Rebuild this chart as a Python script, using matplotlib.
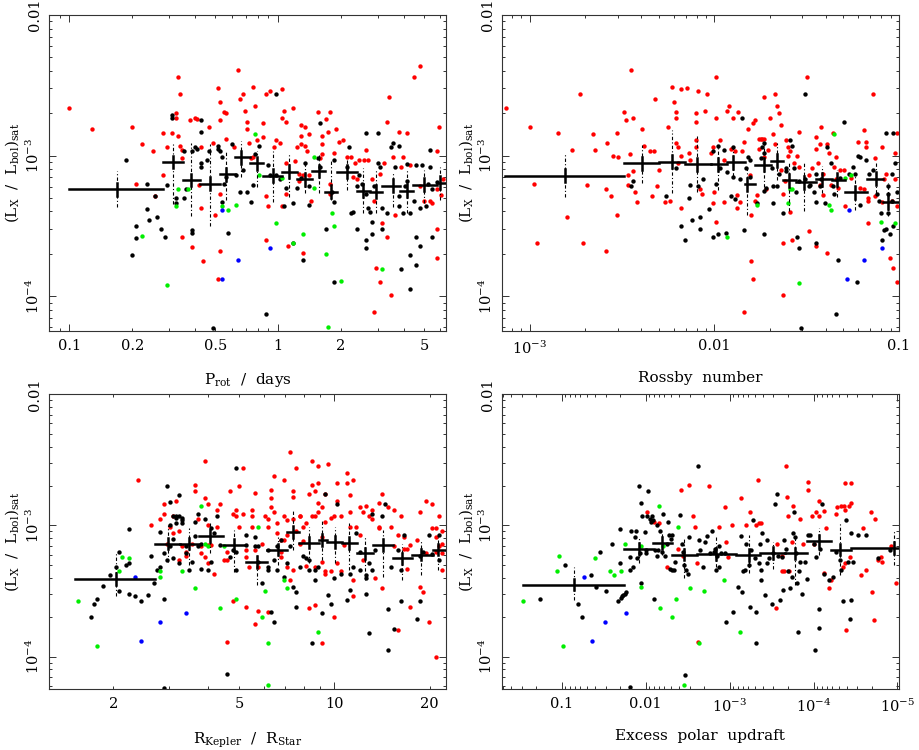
import numpy as np
import matplotlib
matplotlib.use('Agg')
import matplotlib.pyplot as plt
from matplotlib.ticker import LogLocator, FuncFormatter

plt.rcParams['font.family'] = 'DejaVu Serif'
plt.rcParams['mathtext.fontset'] = 'dejavuserif'

# ---- star samples: (log10 x, log10 Lx/Lbol) per colour ----
# panel 1: rotation period (days)
prot_red = [(-1.00, -2.66), (-0.89, -2.81), (-0.70, -2.80), (-0.65, -2.92), (-0.68, -3.20), (-0.60, -2.97),
            (-0.59, -3.29), (-0.55, -3.14), (-0.55, -2.84), (-0.53, -2.94), (-0.51, -2.84), (-0.49, -2.70),
            (-0.49, -2.73), (-0.48, -2.44), (-0.48, -2.86), (-0.47, -2.93), (-0.47, -2.56), (-0.46, -3.02),
            (-0.46, -2.96), (-0.46, -3.58), (-0.42, -2.75), (-0.41, -3.65), (-0.40, -2.73), (-0.39, -2.74),
            (-0.38, -3.21), (-0.37, -2.94), (-0.37, -3.37), (-0.36, -3.75), (-0.33, -2.80), (-0.31, -2.91),
            (-0.30, -3.42), (-0.29, -2.52), (-0.29, -3.88), (-0.28, -2.62), (-0.28, -2.75), (-0.28, -3.68),
            (-0.28, -3.27), (-0.26, -2.69), (-0.25, -2.70), (-0.25, -2.88), (-0.21, -2.94), (-0.19, -2.39),
            (-0.18, -2.60), (-0.17, -2.56), (-0.16, -2.68), (-0.15, -2.76), (-0.15, -2.81), (-0.14, -2.91),
            (-0.13, -3.02), (-0.12, -2.51), (-0.11, -2.65), (-0.12, -3.01), (-0.10, -2.89), (-0.07, -2.77),
            (-0.07, -2.87), (-0.06, -3.60), (-0.06, -2.56), (-0.06, -3.29), (-0.05, -3.36), (-0.04, -2.54),
            (-0.02, -2.94), (-0.01, -2.89), (0.01, -2.91), (0.02, -2.73), (0.02, -2.53), (0.02, -3.36),
            (0.03, -2.68), (0.04, -2.76), (0.04, -3.05), (0.04, -3.27), (0.05, -3.64), (0.07, -2.66),
            (0.08, -3.04), (0.09, -2.94), (0.10, -3.13), (0.10, -3.18), (0.11, -2.78), (0.11, -2.86),
            (0.11, -2.92), (0.12, -3.69), (0.12, -3.14), (0.13, -2.80), (0.13, -2.93), (0.14, -2.97),
            (0.15, -3.14), (0.15, -2.85), (0.16, -3.32), (0.19, -2.69), (0.20, -3.02), (0.21, -2.86),
            (0.21, -2.92), (0.21, -2.99), (0.23, -2.74), (0.25, -2.69), (0.24, -2.83), (0.25, -3.20),
            (0.25, -3.27), (0.27, -2.98), (0.28, -2.81), (0.29, -2.90), (0.31, -2.89), (0.33, -3.01),
            (0.35, -3.01), (0.36, -3.15), (0.37, -3.05), (0.38, -3.17), (0.39, -3.03), (0.41, -3.03),
            (0.42, -2.96), (0.43, -3.03), (0.45, -3.17), (0.46, -4.11), (0.46, -3.32), (0.47, -3.80),
            (0.49, -3.90), (0.49, -3.13), (0.50, -3.48), (0.51, -3.05), (0.52, -2.76), (0.52, -3.58),
            (0.53, -2.58), (0.54, -3.99), (0.55, -3.01), (0.56, -3.42), (0.58, -2.83), (0.59, -3.08),
            (0.60, -3.01), (0.62, -2.84), (0.63, -3.07), (0.65, -2.44), (0.68, -2.36), (0.68, -3.22),
            (0.70, -3.32), (0.73, -3.32), (0.74, -3.34), (0.76, -3.24), (0.76, -2.97), (0.76, -3.52),
            (0.77, -2.80), (0.76, -3.73), (0.78, -3.28), (0.79, -3.17)]
prot_black = [(-0.73, -3.03), (-0.70, -3.71), (-0.68, -3.50), (-0.68, -3.59), (-0.63, -3.20), (-0.63, -3.38),
              (-0.62, -3.46), (-0.59, -3.29), (-0.58, -3.44), (-0.56, -3.52), (-0.54, -3.58), (-0.53, -3.21),
              (-0.51, -2.71), (-0.51, -2.73), (-0.49, -3.30), (-0.49, -3.34), (-0.45, -3.30), (-0.45, -2.97),
              (-0.44, -3.24), (-0.41, -2.97), (-0.41, -3.55), (-0.41, -3.53), (-0.40, -2.94), (-0.39, -2.95),
              (-0.37, -3.08), (-0.37, -2.75), (-0.37, -2.83), (-0.37, -3.05), (-0.34, -3.03), (-0.33, -2.97),
              (-0.29, -2.93), (-0.29, -2.95), (-0.28, -2.97), (-0.27, -3.01), (-0.27, -3.33), (-0.26, -3.20),
              (-0.25, -3.15), (-0.24, -3.55), (-0.22, -2.92), (-0.20, -3.14), (-0.18, -3.26), (-0.17, -3.10),
              (-0.15, -3.26), (-0.13, -3.33), (-0.12, -3.21), (-0.11, -2.99), (-0.09, -2.93), (-0.05, -3.07),
              (-0.04, -3.14), (-0.01, -3.14), (-0.01, -2.56), (0.01, -3.17), (0.03, -3.36), (0.04, -3.23),
              (0.07, -3.62), (0.07, -3.34), (0.09, -3.23), (0.11, -3.16), (0.12, -3.74), (0.13, -3.05),
              (0.15, -3.22), (0.15, -3.35), (0.19, -3.02), (0.20, -2.77), (0.20, -3.08), (0.23, -3.52),
              (0.26, -3.26), (0.27, -3.03), (0.27, -3.90), (0.27, -3.33), (0.33, -3.08), (0.34, -2.94),
              (0.35, -3.41), (0.36, -3.40), (0.38, -3.22), (0.38, -3.52), (0.39, -3.14), (0.40, -3.20),
              (0.42, -3.60), (0.42, -3.66), (0.42, -3.27), (0.42, -2.84), (0.43, -3.37), (0.44, -3.40),
              (0.45, -3.47), (0.45, -3.56), (0.46, -3.22), (0.48, -2.84), (0.48, -3.05), (0.49, -3.08),
              (0.50, -3.37), (0.50, -3.52), (0.52, -3.41), (0.54, -2.94), (0.55, -2.91), (0.56, -3.08),
              (0.58, -2.93), (0.58, -3.29), (0.58, -3.36), (0.59, -3.81), (0.60, -3.41), (0.61, -3.22),
              (0.62, -3.18), (0.62, -3.06), (0.63, -3.41), (0.63, -3.71), (0.63, -3.95), (0.65, -3.32),
              (0.66, -3.58), (0.66, -3.78), (0.66, -3.07), (0.68, -3.37), (0.68, -3.64), (0.69, -3.07),
              (0.71, -3.36), (0.72, -3.20), (0.73, -3.08), (0.73, -2.96), (0.74, -3.24), (0.74, -3.58),
              (0.76, -3.19), (-0.06, -4.13), (-0.31, -4.23)]
prot_green = [(-0.65, -3.57), (-0.53, -3.92), (-0.49, -3.36), (-0.48, -3.24), (-0.43, -3.24), (-0.27, -3.36),
              (-0.24, -3.39), (-0.20, -3.35), (-0.11, -2.85), (-0.09, -3.14), (-0.01, -3.48), (0.02, -3.16),
              (0.07, -3.62), (0.12, -3.56), (0.17, -3.01), (0.17, -3.23), (0.23, -3.70), (0.24, -4.22),
              (0.26, -3.41), (0.27, -3.50), (0.30, -3.89), (0.50, -3.81)]
prot_blue = [(-0.27, -3.39), (-0.19, -3.74), (-0.27, -3.88), (-0.04, -3.66)]

# panel 2: Rossby number
ro_red = [(-3.13, -2.66), (-3.00, -2.80), (-2.98, -3.20), (-2.96, -3.62), (-2.85, -2.84), (-2.80, -3.44),
          (-2.77, -2.96), (-2.73, -2.56), (-2.71, -3.62), (-2.69, -3.21), (-2.66, -2.85), (-2.65, -2.96),
          (-2.59, -3.68), (-2.59, -3.24), (-2.58, -2.91), (-2.56, -3.29), (-2.55, -3.00), (-2.53, -2.84),
          (-2.53, -3.42), (-2.52, -3.01), (-2.49, -2.69), (-2.48, -2.75), (-2.47, -3.14), (-2.47, -3.21),
          (-2.46, -2.99), (-2.45, -2.39), (-2.44, -2.73), (-2.44, -3.11), (-2.43, -3.26), (-2.42, -3.33),
          (-2.39, -2.81), (-2.38, -2.93), (-2.35, -2.97), (-2.34, -3.29), (-2.33, -2.97), (-2.32, -2.60),
          (-2.31, -3.22), (-2.30, -3.10), (-2.27, -3.33), (-2.25, -2.80), (-2.24, -3.32), (-2.23, -2.51),
          (-2.22, -2.62), (-2.21, -2.69), (-2.21, -2.73), (-2.21, -2.91), (-2.20, -2.94), (-2.20, -3.05),
          (-2.18, -3.37), (-2.18, -3.00), (-2.18, -2.53), (-2.15, -2.52), (-2.14, -2.98), (-2.13, -3.03),
          (-2.10, -2.70), (-2.10, -2.89), (-2.10, -2.94), (-2.10, -2.76), (-2.09, -2.54), (-2.08, -3.24),
          (-2.07, -3.27), (-2.05, -2.68), (-2.04, -2.56), (-2.02, -2.98), (-2.01, -3.34), (-2.01, -2.94),
          (-2.00, -3.26), (-1.99, -2.44), (-1.99, -3.47), (-1.99, -2.73), (-1.97, -2.89), (-1.95, -3.33),
          (-1.95, -3.03), (-1.93, -2.68), (-1.92, -2.65), (-1.91, -2.95), (-1.90, -2.73), (-1.89, -2.97),
          (-1.88, -3.28), (-1.88, -3.37), (-1.87, -2.69), (-1.86, -3.33), (-1.85, -2.97), (-1.84, -4.11),
          (-1.84, -2.90), (-1.82, -2.81), (-1.81, -3.14), (-1.80, -3.42), (-1.80, -3.75), (-1.79, -2.77),
          (-1.79, -3.88), (-1.78, -2.75), (-1.78, -3.32), (-1.77, -3.28), (-1.76, -2.88), (-1.76, -2.95),
          (-1.75, -2.88), (-1.74, -2.88), (-1.73, -2.88), (-1.73, -2.58), (-1.73, -3.01), (-1.72, -3.24),
          (-1.71, -2.96), (-1.70, -2.73), (-1.68, -2.85), (-1.67, -2.92), (-1.67, -2.56), (-1.66, -2.65),
          (-1.65, -2.70), (-1.64, -3.10), (-1.64, -2.78), (-1.63, -3.62), (-1.63, -3.99), (-1.63, -3.27),
          (-1.62, -3.18), (-1.61, -2.89), (-1.60, -2.94), (-1.60, -3.00), (-1.59, -3.40), (-1.59, -2.97),
          (-1.58, -3.60), (-1.57, -3.05), (-1.55, -3.00), (-1.54, -2.83), (-1.54, -3.08), (-1.50, -2.44),
          (-1.49, -3.14), (-1.49, -3.54), (-1.47, -3.09), (-1.45, -3.64), (-1.45, -2.87), (-1.45, -2.95),
          (-1.44, -3.05), (-1.43, -2.92), (-1.43, -3.21), (-1.42, -2.80), (-1.41, -3.28), (-1.41, -3.13),
          (-1.39, -2.92), (-1.39, -3.69), (-1.38, -2.98), (-1.37, -3.21), (-1.36, -2.84), (-1.35, -3.08),
          (-1.34, -3.01), (-1.34, -3.17), (-1.33, -3.23), (-1.32, -3.10), (-1.30, -3.10), (-1.29, -3.36),
          (-1.26, -3.16), (-1.22, -2.90), (-1.21, -3.23), (-1.19, -3.24), (-1.19, -2.82), (-1.18, -2.94),
          (-1.18, -2.90), (-1.17, -3.32), (-1.17, -3.48), (-1.17, -3.30), (-1.14, -2.56), (-1.13, -3.02),
          (-1.13, -3.29), (-1.09, -3.33), (-1.09, -2.94), (-1.08, -3.17), (-1.07, -3.13), (-1.05, -3.73),
          (-1.04, -3.32), (-1.03, -3.80), (-1.02, -3.17), (-1.02, -2.98), (-1.01, -3.36), (-1.01, -3.90),
          (-1.01, -2.84)]
ro_black = [(-2.45, -3.22), (-2.44, -3.18), (-2.26, -3.29), (-2.21, -3.09), (-2.18, -3.50), (-2.16, -3.60),
            (-2.14, -3.30), (-2.13, -3.21), (-2.12, -3.46), (-2.09, -3.22), (-2.08, -3.44), (-2.08, -3.52),
            (-2.06, -3.17), (-2.03, -3.38), (-2.01, -2.97), (-2.01, -3.58), (-1.99, -3.20), (-1.98, -3.56),
            (-1.98, -2.93), (-1.97, -3.09), (-1.95, -2.96), (-1.94, -3.55), (-1.93, -3.12), (-1.91, -3.29),
            (-1.90, -2.94), (-1.90, -3.15), (-1.89, -3.31), (-1.86, -3.17), (-1.85, -2.73), (-1.84, -3.53),
            (-1.83, -3.09), (-1.82, -3.01), (-1.81, -3.15), (-1.81, -3.03), (-1.77, -3.34), (-1.75, -3.02),
            (-1.74, -2.94), (-1.73, -2.91), (-1.73, -2.98), (-1.73, -3.25), (-1.73, -3.56), (-1.72, -3.23),
            (-1.69, -3.09), (-1.68, -3.22), (-1.68, -3.34), (-1.66, -3.22), (-1.65, -3.13), (-1.63, -3.41),
            (-1.61, -3.11), (-1.61, -3.09), (-1.59, -2.89), (-1.58, -2.93), (-1.57, -3.09), (-1.56, -3.26),
            (-1.55, -3.58), (-1.54, -3.66), (-1.54, -3.18), (-1.53, -4.23), (-1.51, -2.56), (-1.51, -3.17),
            (-1.49, -3.22), (-1.48, -3.21), (-1.46, -3.26), (-1.45, -3.33), (-1.45, -3.13), (-1.45, -3.62),
            (-1.43, -3.22), (-1.42, -3.17), (-1.40, -3.34), (-1.39, -2.94), (-1.37, -3.05), (-1.36, -3.22),
            (-1.35, -3.27), (-1.34, -4.13), (-1.33, -3.74), (-1.32, -3.16), (-1.30, -2.76), (-1.27, -3.13),
            (-1.25, -3.08), (-1.24, -3.13), (-1.23, -3.90), (-1.22, -3.00), (-1.21, -3.01), (-1.21, -3.35),
            (-1.18, -3.03), (-1.16, -3.13), (-1.14, -3.10), (-1.12, -3.27), (-1.11, -3.32), (-1.10, -3.41),
            (-1.09, -3.60), (-1.08, -3.53), (-1.07, -2.84), (-1.07, -3.52), (-1.06, -3.22), (-1.06, -3.27),
            (-1.06, -3.41), (-1.05, -3.56), (-1.04, -3.32), (-1.04, -3.13), (-1.03, -3.50), (-1.03, -2.84),
            (-1.02, -3.05), (-1.01, -3.26)]
ro_green = [(-1.93, -3.58), (-1.77, -3.35), (-1.59, -3.24), (-1.58, -3.24), (-1.60, -3.34), (-1.54, -3.91),
            (-1.38, -3.35), (-1.37, -3.39), (-1.35, -2.85), (-1.29, -3.16), (-1.26, -3.14), (-1.10, -3.47),
            (-1.02, -3.48)]
ro_blue = [(-1.27, -3.39), (-1.28, -3.88), (-1.19, -3.74), (-1.09, -3.66)]

# panel 3: Kepler co-rotation radius / stellar radius
rk_red = [(0.38, -2.65), (0.42, -3.00), (0.45, -2.95), (0.46, -2.84), (0.46, -2.91), (0.47, -3.14),
          (0.48, -3.01), (0.49, -3.06), (0.49, -2.93), (0.50, -2.81), (0.51, -3.04), (0.51, -3.26),
          (0.52, -3.16), (0.53, -3.23), (0.53, -3.20), (0.55, -3.14), (0.56, -2.74), (0.56, -2.69),
          (0.57, -2.95), (0.58, -3.16), (0.58, -3.21), (0.59, -3.24), (0.59, -2.51), (0.59, -2.79),
          (0.60, -2.84), (0.60, -3.00), (0.60, -3.29), (0.60, -3.15), (0.61, -3.15), (0.62, -3.37),
          (0.63, -2.88), (0.63, -3.01), (0.64, -2.84), (0.65, -3.26), (0.66, -3.26), (0.66, -3.89),
          (0.66, -3.20), (0.67, -2.74), (0.68, -3.58), (0.68, -2.91), (0.69, -2.93), (0.69, -2.88),
          (0.70, -2.70), (0.70, -3.01), (0.71, -2.56), (0.71, -2.91), (0.72, -3.24), (0.72, -3.19),
          (0.72, -3.62), (0.73, -3.32), (0.74, -3.01), (0.74, -2.93), (0.74, -2.88), (0.75, -3.75),
          (0.75, -2.75), (0.75, -3.19), (0.76, -3.32), (0.76, -3.65), (0.77, -3.14), (0.78, -2.93),
          (0.79, -2.95), (0.79, -3.01), (0.79, -3.66), (0.80, -2.86), (0.80, -2.79), (0.80, -2.73),
          (0.81, -2.62), (0.81, -2.90), (0.82, -3.06), (0.82, -2.98), (0.83, -3.11), (0.83, -3.20),
          (0.83, -3.24), (0.84, -3.11), (0.84, -2.93), (0.84, -2.65), (0.85, -3.32), (0.85, -3.07),
          (0.85, -2.96), (0.86, -3.42), (0.86, -2.44), (0.87, -2.74), (0.87, -2.78), (0.87, -3.34),
          (0.87, -2.95), (0.88, -2.56), (0.88, -3.04), (0.89, -2.93), (0.89, -3.14), (0.89, -2.93),
          (0.90, -3.01), (0.90, -3.12), (0.91, -3.31), (0.91, -2.98), (0.92, -3.63), (0.92, -2.76),
          (0.93, -2.51), (0.93, -2.69), (0.93, -2.93), (0.94, -3.32), (0.94, -2.93), (0.94, -3.61),
          (0.94, -2.74), (0.95, -2.55), (0.95, -2.68), (0.95, -2.90), (0.95, -2.83), (0.96, -3.09),
          (0.96, -2.86), (0.96, -3.28), (0.97, -2.97), (0.96, -3.90), (0.97, -2.76), (0.97, -3.37),
          (0.97, -3.35), (0.98, -2.53), (0.99, -2.94), (0.99, -3.35), (1.00, -3.70), (1.00, -2.93),
          (1.01, -3.29), (1.01, -2.81), (1.01, -2.68), (1.02, -2.93), (1.02, -3.35), (1.03, -3.15),
          (1.04, -2.60), (1.04, -2.68), (1.05, -2.90), (1.05, -3.01), (1.05, -2.77), (1.06, -3.42),
          (1.06, -3.54), (1.06, -2.65), (1.07, -3.01), (1.08, -2.86), (1.08, -3.07), (1.09, -2.90),
          (1.09, -3.26), (1.10, -2.85), (1.11, -2.93), (1.12, -2.95), (1.12, -2.88), (1.13, -3.40),
          (1.14, -3.01), (1.14, -2.83), (1.14, -3.02), (1.15, -3.48), (1.15, -2.76), (1.17, -2.86),
          (1.18, -3.01), (1.19, -3.16), (1.19, -2.88), (1.20, -3.80), (1.20, -3.07), (1.21, -2.93),
          (1.22, -3.18), (1.22, -3.09), (1.23, -3.33), (1.23, -3.18), (1.24, -3.62), (1.24, -3.15),
          (1.26, -3.11), (1.27, -2.90), (1.27, -3.47), (1.28, -3.51), (1.29, -3.21), (1.29, -2.81),
          (1.30, -3.74), (1.31, -2.84), (1.31, -3.02), (1.32, -3.02), (1.32, -3.09), (1.32, -3.20),
          (1.32, -4.00), (1.33, -3.16), (1.33, -2.93), (1.34, -3.34), (1.34, -3.14), (1.34, -3.21),
          (1.34, -3.04)]
rk_black = [(0.23, -3.70), (0.24, -3.60), (0.25, -3.56), (0.27, -3.46), (0.29, -3.38), (0.31, -3.32),
            (0.32, -3.20), (0.32, -3.50), (0.34, -3.30), (0.35, -3.29), (0.35, -3.52), (0.35, -3.03),
            (0.37, -3.54), (0.39, -3.58), (0.41, -3.53), (0.42, -3.23), (0.43, -3.44), (0.44, -3.34),
            (0.45, -3.32), (0.45, -3.05), (0.46, -3.21), (0.46, -3.56), (0.46, -4.24), (0.47, -3.26),
            (0.47, -2.70), (0.48, -3.00), (0.48, -2.82), (0.48, -3.16), (0.49, -3.25), (0.49, -3.10),
            (0.49, -2.93), (0.50, -2.94), (0.50, -2.98), (0.50, -2.93), (0.51, -2.77), (0.51, -2.93),
            (0.51, -3.29), (0.52, -2.94), (0.52, -2.98), (0.52, -2.96), (0.53, -3.16), (0.53, -3.21),
            (0.54, -3.34), (0.55, -3.28), (0.56, -2.97), (0.56, -3.08), (0.57, -3.16), (0.57, -2.91),
            (0.58, -3.14), (0.58, -3.33), (0.59, -2.95), (0.60, -3.34), (0.61, -3.28), (0.61, -3.02),
            (0.62, -3.06), (0.63, -2.93), (0.64, -3.15), (0.66, -4.13), (0.67, -3.24), (0.68, -3.19),
            (0.69, -3.34), (0.69, -3.20), (0.69, -2.56), (0.72, -3.07), (0.72, -3.15), (0.75, -3.09),
            (0.75, -3.16), (0.76, -3.16), (0.76, -3.28), (0.77, -3.44), (0.79, -3.19), (0.79, -3.32),
            (0.79, -3.34), (0.80, -3.66), (0.81, -3.74), (0.81, -3.26), (0.82, -3.16), (0.82, -3.34),
            (0.83, -3.11), (0.84, -3.39), (0.85, -3.29), (0.86, -3.16), (0.87, -3.47), (0.88, -3.62),
            (0.88, -3.51), (0.89, -3.32), (0.90, -3.23), (0.91, -3.25), (0.92, -3.26), (0.92, -3.34),
            (0.93, -3.90), (0.94, -3.42), (0.94, -3.34), (0.95, -3.32), (0.96, -3.67), (0.97, -2.76),
            (0.98, -3.53), (0.99, -3.60), (1.00, -3.40), (1.01, -2.84), (1.02, -3.37), (1.04, -3.57),
            (1.05, -3.49), (1.05, -3.37), (1.06, -3.32), (1.07, -3.06), (1.08, -3.20), (1.08, -3.34),
            (1.10, -3.40), (1.10, -3.52), (1.10, -3.38), (1.11, -3.29), (1.11, -3.82), (1.12, -2.91),
            (1.12, -3.34), (1.13, -3.19), (1.15, -2.93), (1.16, -2.84), (1.17, -3.64), (1.17, -3.95),
            (1.18, -3.32), (1.19, -3.79), (1.20, -3.19), (1.21, -3.34), (1.21, -3.58), (1.22, -3.07),
            (1.26, -3.71), (1.27, -3.58), (1.27, -3.23), (1.28, -3.20), (1.30, -3.07), (1.31, -3.22),
            (1.33, -3.07), (1.33, -3.26)]
rk_green = [(0.19, -3.58), (0.25, -3.92), (0.32, -3.35), (0.33, -3.24), (0.35, -3.25), (0.45, -3.39),
            (0.45, -3.35), (0.52, -3.35), (0.56, -3.48), (0.58, -2.85), (0.59, -3.14), (0.60, -3.16),
            (0.64, -3.63), (0.65, -3.16), (0.69, -3.56), (0.76, -3.01), (0.77, -3.70), (0.78, -3.50),
            (0.79, -3.90), (0.79, -4.22), (0.84, -3.42), (0.85, -3.48), (0.95, -3.81)]
rk_blue = [(0.37, -3.39), (0.39, -3.88), (0.45, -3.74), (0.53, -3.67)]

# panel 4: excess polar updraft
up_red = [(-2.02, -2.90), (-2.10, -2.97), (-2.16, -2.98), (-2.25, -3.32), (-2.39, -3.18), (-2.42, -2.73),
          (-2.44, -3.23), (-2.52, -2.69), (-2.56, -2.93), (-2.59, -3.01), (-2.61, -3.29), (-2.62, -3.89),
          (-2.75, -2.70), (-2.87, -3.01), (-2.95, -2.86), (-2.96, -3.13), (-2.98, -3.24), (-3.03, -3.00),
          (-3.14, -2.79), (-3.20, -3.00), (-3.24, -2.90), (-3.31, -3.00), (-3.34, -2.65), (-3.35, -2.98),
          (-3.38, -2.98), (-3.55, -3.63), (-3.57, -3.14), (-3.62, -3.35), (-3.63, -3.23), (-3.65, -3.35),
          (-3.67, -2.55), (-3.68, -2.78), (-3.70, -2.93), (-3.71, -3.35), (-3.74, -3.13), (-3.76, -2.85),
          (-3.84, -2.95), (-3.88, -3.14), (-3.94, -2.67), (-3.94, -2.73), (-3.98, -2.93), (-4.00, -3.14),
          (-4.03, -2.90), (-4.06, -2.81), (-4.07, -2.93), (-4.12, -2.89), (-4.12, -3.36), (-4.15, -3.02),
          (-4.19, -3.48), (-4.21, -3.42), (-4.27, -2.91), (-4.28, -2.86), (-4.33, -2.85), (-4.35, -3.32),
          (-4.36, -2.85), (-4.37, -2.68), (-4.37, -2.88), (-4.38, -3.29), (-4.39, -3.80), (-4.42, -2.85),
          (-4.43, -3.24), (-4.45, -2.68), (-4.45, -2.83), (-4.57, -3.38), (-4.59, -3.02), (-4.63, -3.34),
          (-4.69, -2.90), (-4.70, -3.51), (-4.72, -3.72), (-4.73, -2.95), (-4.77, -3.26), (-4.80, -3.24),
          (-4.82, -3.28), (-4.92, -3.16), (-4.98, -3.44)]
up_black = [(-0.74, -3.56), (-1.04, -3.30), (-1.20, -3.60), (-1.24, -3.70), (-1.35, -3.38), (-1.41, -3.47),
            (-1.46, -3.20), (-1.53, -3.50), (-1.60, -3.14), (-1.67, -3.58), (-1.69, -3.29), (-1.71, -3.55),
            (-1.72, -3.54), (-1.73, -3.53), (-1.75, -3.52), (-1.77, -3.51), (-1.70, -3.03), (-1.81, -3.24),
            (-1.81, -4.23), (-1.82, -3.34), (-1.83, -3.04), (-1.85, -3.32), (-1.87, -3.09), (-1.89, -3.04),
            (-1.90, -3.25), (-1.92, -2.70), (-1.93, -3.21), (-1.94, -3.44), (-1.95, -2.83), (-1.96, -2.93),
            (-1.99, -3.05), (-2.00, -3.19), (-2.01, -3.21), (-2.02, -2.93), (-2.03, -2.74), (-2.05, -2.95),
            (-2.07, -2.97), (-2.08, -2.93), (-2.09, -2.96), (-2.10, -3.56), (-2.11, -3.19), (-2.13, -3.23),
            (-2.14, -3.00), (-2.15, -3.19), (-2.17, -3.04), (-2.19, -3.20), (-2.21, -2.91), (-2.23, -3.23),
            (-2.25, -3.14), (-2.27, -2.97), (-2.28, -3.07), (-2.29, -3.33), (-2.30, -3.10), (-2.31, -3.34),
            (-2.32, -3.07), (-2.34, -3.34), (-2.35, -3.28), (-2.41, -2.92), (-2.43, -3.14), (-2.44, -3.20),
            (-2.46, -3.30), (-2.47, -4.14), (-2.48, -3.34), (-2.50, -3.37), (-2.52, -3.09), (-2.62, -2.55),
            (-2.63, -3.11), (-2.65, -3.19), (-2.68, -3.32), (-2.71, -3.13), (-2.73, -3.08), (-2.77, -3.21),
            (-2.79, -3.04), (-2.81, -3.20), (-2.83, -3.18), (-2.84, -3.34), (-2.85, -3.23), (-2.87, -3.16),
            (-2.88, -3.32), (-2.90, -3.21), (-2.94, -3.21), (-2.96, -3.74), (-3.04, -3.66), (-3.10, -3.47),
            (-3.14, -3.08), (-3.15, -3.51), (-3.16, -3.35), (-3.18, -3.34), (-3.20, -3.14), (-3.23, -3.30),
            (-3.24, -3.62), (-3.26, -3.19), (-3.28, -2.96), (-3.30, -3.25), (-3.31, -3.66), (-3.32, -3.90),
            (-3.35, -3.29), (-3.36, -3.14), (-3.37, -3.42), (-3.38, -3.34), (-3.39, -3.06), (-3.42, -3.53),
            (-3.44, -3.11), (-3.45, -3.29), (-3.47, -3.25), (-3.50, -3.60), (-3.52, -3.21), (-3.54, -2.84),
            (-3.56, -2.76), (-3.58, -3.23), (-3.60, -3.57), (-3.62, -3.24), (-3.64, -3.49), (-3.65, -3.11),
            (-3.67, -3.18), (-3.70, -3.35), (-3.72, -3.48), (-3.74, -3.39), (-3.75, -3.06), (-3.77, -2.90),
            (-3.78, -3.09), (-3.79, -3.21), (-3.80, -3.44), (-3.82, -3.81), (-3.83, -3.35), (-3.84, -3.28),
            (-3.86, -3.52), (-3.90, -3.28), (-3.92, -3.41), (-3.94, -3.07), (-3.96, -3.07), (-4.00, -3.14),
            (-4.02, -3.95), (-4.03, -3.24), (-4.06, -3.64), (-4.07, -3.78), (-4.08, -3.18), (-4.10, -2.84),
            (-4.13, -3.37), (-4.19, -3.42), (-4.23, -3.39), (-4.27, -3.20), (-4.31, -3.26), (-4.33, -3.34),
            (-4.35, -3.58), (-4.39, -2.96), (-4.41, -3.28), (-4.43, -3.71), (-4.45, -3.57), (-4.45, -3.06),
            (-4.47, -3.28), (-4.53, -3.07), (-4.63, -3.07), (-4.77, -3.25), (-4.91, -3.19)]
up_green = [(-0.54, -3.58), (-0.97, -3.23), (-0.95, -3.35), (-1.02, -3.92), (-1.40, -3.25), (-1.57, -3.35),
            (-1.62, -3.38), (-1.71, -3.35), (-1.76, -3.14), (-1.95, -3.47), (-1.95, -3.16), (-2.16, -2.85),
            (-2.17, -3.63), (-2.21, -3.16), (-2.31, -3.70), (-2.36, -3.56), (-2.38, -3.01), (-2.53, -3.48),
            (-2.63, -3.90), (-2.69, -3.50), (-2.93, -3.42), (-3.12, -3.81), (-2.46, -4.22)]
up_blue = [(-1.27, -3.39), (-1.36, -3.88), (-1.52, -3.74), (-1.77, -3.67)]

# ---- binned means: bin edges, centres, mean and spread (units of 1e-3) ----
prot_edges = [0.100, 0.282, 0.349, 0.423, 0.527, 0.622, 0.734, 0.851, 1.04, 1.229, 1.45, 1.68, 1.925,
              2.38, 2.76, 3.14, 3.84, 4.45, 5.76, 7.45]
prot_mid = [0.169, 0.315, 0.383, 0.472, 0.563, 0.665, 0.790, 0.943, 1.129, 1.347, 1.578, 1.795, 2.15,
            2.56, 2.95, 3.55, 4.14, 5.03, 5.98]
prot_mean = [0.576, 0.901, 0.671, 0.629, 0.737, 0.973, 0.882, 0.721, 0.770, 0.679, 0.778, 0.555, 0.770,
             0.561, 0.555, 0.609, 0.564, 0.619, 0.643]
prot_hi = [0.778, 1.25, 1.22, 1.21, 1.10, 1.26, 1.07, 1.07, 1.04, 0.882, 1.01, 0.93, 0.957, 0.813, 0.791,
           0.770, 0.791, 0.791, 0.835]
prot_lo = [0.429, 0.45, 0.372, 0.316, 0.484, 0.709, 0.602, 0.471, 0.511, 0.540, 0.540, 0.484, 0.570, 0.389,
           0.389, 0.434, 0.389, 0.458, 0.484]

ro_edges = [7.34e-4, 3.25e-3, 4.98e-3, 6.94e-3, 9.55e-3, 0.01167, 0.01466, 0.01664, 0.0202, 0.0235,
            0.0277, 0.0356, 0.0433, 0.0511, 0.067, 0.0824, 0.0993]
ro_mid = [1.55e-3, 4.05e-3, 5.87e-3, 8.09e-3, 0.0105, 0.01268, 0.0151, 0.01845, 0.0218, 0.0252, 0.0306,
          0.0382, 0.0461, 0.0579, 0.075, 0.0871]
ro_mean = [0.721, 0.883, 0.907, 0.868, 0.868, 0.897, 0.626, 0.859, 0.917, 0.665, 0.647, 0.679, 0.672,
           0.549, 0.683, 0.466]
ro_hi = [1.04, 1.19, 1.52, 1.37, 1.19, 1.13, 0.84, 1.22, 1.22, 0.88, 0.88, 0.84, 0.79, 0.75, 0.88, 0.64]
ro_lo = [0.51, 0.64, 0.54, 0.555, 0.57, 0.71, 0.38, 0.60, 0.67, 0.40, 0.40, 0.54, 0.51, 0.41, 0.54, 0.37]

rk_edges = [1.514, 2.72, 3.25, 3.74, 4.46, 5.25, 6.14, 7.1, 7.75, 8.97, 9.46, 10.55, 11.77, 13.28, 15.38,
            17.57, 20.46, 24.0]
rk_mid = [2.035, 2.985, 3.48, 4.06, 4.82, 5.71, 6.62, 7.38, 8.32, 9.14, 10.05, 11.16, 12.5, 14.22, 16.33,
          18.8, 21.33]
rk_mean = [0.389, 0.728, 0.728, 0.829, 0.711, 0.528, 0.655, 0.889, 0.741, 0.777, 0.746, 0.737, 0.611,
           0.711, 0.560, 0.600, 0.655]
rk_hi = [0.618, 1.005, 0.948, 1.035, 0.921, 0.611, 0.819, 1.31, 0.976, 1.098, 0.976, 1.035, 0.819, 0.921,
         0.728, 0.772, 0.819]
rk_lo = [0.288, 0.528, 0.498, 0.611, 0.443, 0.350, 0.498, 0.648, 0.513, 0.543, 0.513, 0.456, 0.382, 0.405,
         0.382, 0.417, 0.456]

up_edges = [0.286, 0.0181, 8.26e-3, 4.91e-3, 2.43e-3, 8.4e-4, 4.35e-4, 2.20e-4, 1.19e-4, 6.11e-5,
            3.53e-5, 9.0e-6]
up_mid = [0.0714, 0.0120, 6.34e-3, 3.47e-3, 1.47e-3, 5.83e-4, 3.08e-4, 1.64e-4, 8.65e-5, 4.78e-5, 1.11e-5]
up_mean = [0.354, 0.663, 0.733, 0.600, 0.607, 0.597, 0.618, 0.611, 0.763, 0.655, 0.675]
up_hi = [0.478, 0.819, 0.868, 0.795, 0.819, 0.843, 0.750, 0.843, 0.948, 1.035, 0.921]
up_lo = [0.269, 0.513, 0.593, 0.394, 0.483, 0.430, 0.469, 0.350, 0.593, 0.417, 0.498]


def labeller(labels):
    def f(v, pos):
        for k, s in labels.items():
            if abs(np.log10(v) - np.log10(k)) < 1e-3:
                return s
        return ''
    return FuncFormatter(f)


def draw_panel(ax, samples, edges, mid, mean, hi, lo, xlim, xlabels, xlabel, xlab_y, ylab_x):
    ax.set_xscale('log')
    ax.set_yscale('log')
    for pts, col in samples:
        a = np.array(pts)
        ax.scatter(10**a[:, 0], 10**a[:, 1], s=10, color=col, linewidths=0, zorder=2)
    for i in range(len(mid)):
        y = mean[i] * 1e-3
        ax.plot([edges[i], edges[i + 1]], [y, y], color='k', lw=1.8, zorder=3)
        ax.plot([mid[i], mid[i]], [y / 1.11, y * 1.11], color='k', lw=1.8, zorder=3)
        ax.plot([mid[i], mid[i]], [lo[i] * 1e-3, hi[i] * 1e-3], color='k', lw=0.8,
                ls=(0, (3, 2, 1, 2)), zorder=3)
    ax.set_xlim(*xlim)
    ax.set_ylim(5.65e-5, 1e-2)

    ax.xaxis.set_major_locator(LogLocator(base=10, numticks=20))
    ax.xaxis.set_minor_locator(LogLocator(base=10, subs=np.arange(2, 10), numticks=20))
    ax.xaxis.set_major_formatter(labeller(xlabels))
    ax.xaxis.set_minor_formatter(labeller(xlabels))
    ax.yaxis.set_major_locator(LogLocator(base=10, numticks=20))
    ax.yaxis.set_minor_locator(LogLocator(base=10, subs=np.arange(2, 10), numticks=20))
    ylabels = {1e-2: '0.01', 1e-3: r'$10^{-3}$', 1e-4: r'$10^{-4}$'}
    ax.yaxis.set_major_formatter(labeller(ylabels))
    ax.yaxis.set_minor_formatter(FuncFormatter(lambda v, p: ''))

    ax.tick_params(which='both', direction='in', top=True, right=True, color='#333333',
                   labelsize=10.5, width=0.7)
    ax.tick_params(which='major', length=5)
    ax.tick_params(which='minor', length=2.5)
    ax.tick_params(axis='x', which='both', pad=6)
    ax.tick_params(axis='y', which='both', pad=5, labelrotation=90)
    for lab in ax.get_yticklabels():
        lab.set_va('center')
    for sp in ax.spines.values():
        sp.set_linewidth(0.8)
        sp.set_color('#333333')

    ax.set_xlabel(xlabel, fontsize=11)
    ax.xaxis.set_label_coords(0.5, xlab_y)
    ax.set_ylabel(r'(L$_{\rm X}$  /  L$_{\rm bol}$)$_{\rm sat}$', fontsize=11)
    ax.yaxis.set_label_coords(ylab_x, 0.5)


fig = plt.figure(figsize=(9.19, 7.5), dpi=100)
ax1 = fig.add_axes([0.0533, 0.5587, 0.4317, 0.4213])
ax2 = fig.add_axes([0.5459, 0.5587, 0.4323, 0.4213])
ax3 = fig.add_axes([0.0533, 0.0813, 0.4317, 0.3929])
ax4 = fig.add_axes([0.5459, 0.0813, 0.4323, 0.3929])

draw_panel(ax1, [(prot_red, 'red'), (prot_black, 'black'), (prot_green, '#00ee00'), (prot_blue, 'blue')],
           prot_edges, prot_mid, prot_mean, prot_hi, prot_lo, (0.0799, 6.36),
           {0.1: '0.1', 0.2: '0.2', 0.5: '0.5', 1: '1', 2: '2', 5: '5'},
           r'P$_{\rm rot}$  /  days', -0.128, -0.07)
draw_panel(ax2, [(ro_red, 'red'), (ro_black, 'black'), (ro_green, '#00ee00'), (ro_blue, 'blue')],
           ro_edges, ro_mid, ro_mean, ro_hi, ro_lo, (7.03e-4, 0.1),
           {1e-3: r'$10^{-3}$', 0.01: '0.01', 0.1: '0.1'},
           'Rossby  number', -0.128, -0.067)
draw_panel(ax3, [(rk_red, 'red'), (rk_black, 'black'), (rk_green, '#00ee00'), (rk_blue, 'blue')],
           rk_edges, rk_mid, rk_mean, rk_hi, rk_lo, (1.253, 22.5),
           {2: '2', 5: '5', 10: '10', 20: '20'},
           r'R$_{\rm Kepler}$  /  R$_{\rm Star}$', -0.14, -0.07)
draw_panel(ax4, [(up_red, 'red'), (up_black, 'black'), (up_green, '#00ee00'), (up_blue, 'blue')],
           up_edges, up_mid, up_mean, up_hi, up_lo, (0.518, 9.6e-6),
           {0.1: '0.1', 0.01: '0.01', 1e-3: r'$10^{-3}$', 1e-4: r'$10^{-4}$', 1e-5: r'$10^{-5}$'},
           'Excess  polar  updraft', -0.134, -0.067)

fig.savefig('out.png', dpi=100)
